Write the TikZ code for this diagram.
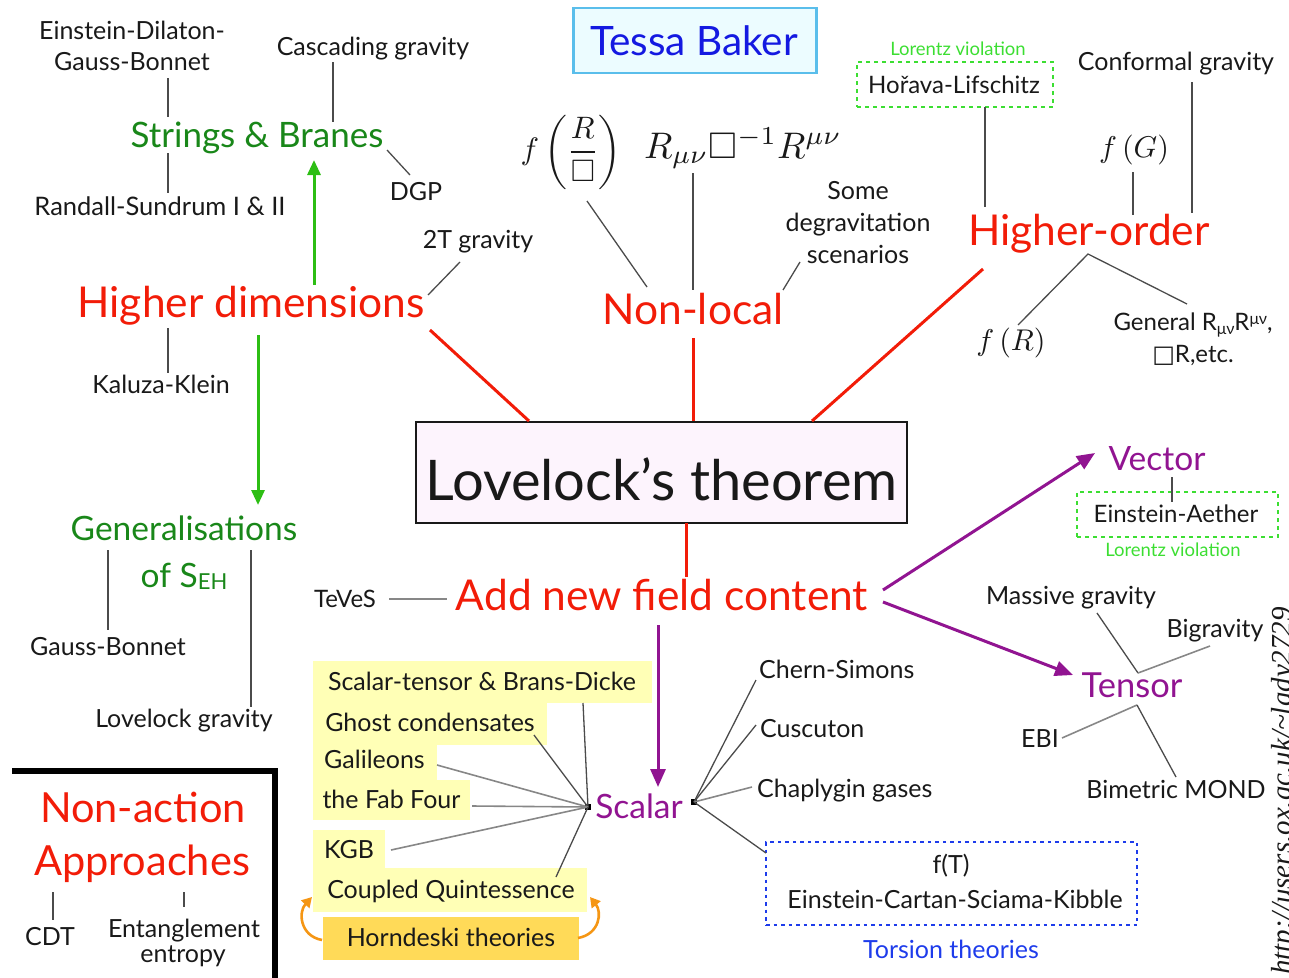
\documentclass[tikz,border=0pt]{standalone}
\usepackage{fontspec}
\usepackage{amssymb}
\setmainfont{Lato}
\newfontfamily\symfont{DejaVu Sans}
\newfontfamily\urlfont{Liberation Serif}
\usetikzlibrary{arrows.meta}

\definecolor{ink}{RGB}{25,25,25}
\definecolor{hired}{RGB}{242,28,8}
\definecolor{dkgreen}{RGB}{25,135,25}
\definecolor{brgreen}{RGB}{45,190,20}
\definecolor{ltgreen}{RGB}{60,222,50}
\definecolor{purp}{RGB}{145,20,145}
\definecolor{torblue}{RGB}{30,60,235}
\definecolor{namblue}{RGB}{20,25,225}
\definecolor{skyline}{RGB}{90,190,235}
\definecolor{skyfill}{RGB}{236,252,255}
\definecolor{lovefill}{RGB}{253,244,253}
\definecolor{hiyel}{RGB}{255,255,182}
\definecolor{gold}{RGB}{255,218,88}
\definecolor{orng}{RGB}{245,150,20}
\definecolor{conncol}{RGB}{75,75,75}
\definecolor{connlight}{RGB}{135,135,135}

\newcommand\fsz[1]{\fontsize{#1}{#1}\selectfont}

\begin{document}
\begin{tikzpicture}[x=1pt,y=-1pt,
  lb/.style={anchor=base, inner sep=0pt, text=ink},
  lbl/.style={lb, font=\fsz{25}},
  lblw/.style={lbl, anchor=base west},
  redhead/.style={lb, text=hired, font=\fsz{42.5}},
  greenhead/.style={lb, text=dkgreen, font=\fsz{35}},
  purphead/.style={lb, text=purp, font=\fsz{33.5}},
  lorentz/.style={lb, text=ltgreen, font=\fsz{18.5}},
  mathlbl/.style={inner sep=0pt, text=ink, font=\fsz{10}},
  conn/.style={draw=conncol, line width=1.3pt},
  connlt/.style={draw=connlight, line width=1.6pt},
  redline/.style={draw=hired, line width=3pt},
  greenarrow/.style={draw=brgreen, line width=3pt, -{Triangle[length=15pt,width=13pt]}},
  purparrow/.style={draw=purp, line width=3pt, -{Triangle[length=18pt,width=15pt]}},
  orngarrow/.style={draw=orng, line width=2.6pt, -{Triangle[length=10pt,width=11pt]}},
  dotbox/.style={draw=ltgreen, line width=2pt, dash pattern=on 4pt off 4pt, inner sep=0pt},
  torbox/.style={draw=torblue, line width=2pt, dash pattern=on 3.5pt off 4pt, inner sep=0pt},
  hub/.style={fill=black, inner sep=0pt, minimum size=6pt}
]
\useasboundingbox (0,0) rectangle (1289,977);
\clip (0,0) rectangle (1289,977);

% ---------- boxes ----------
\node[draw=skyline, fill=skyfill, line width=2.6pt, inner sep=0pt,
      minimum width=243pt, minimum height=65pt] (tessabox) at (695,40.5) {};
\node[lb, text=namblue, font=\fsz{40.5}] (tessa) at (694,55) {Tessa Baker};

\node[draw=ink, fill=lovefill, line width=2.6pt, inner sep=0pt,
      minimum width=491pt, minimum height=101pt] (love) at (661.5,472.5) {};
\node[lb, font=\fsz{56}] (lovetxt) at (661.5,500) {Lovelock’s theorem};

% ---------- strings, branes and higher dimensions ----------
\node[lbl] (edgb1) at (132,39) {Einstein-Dilaton-};
\node[lbl] (edgb2) at (132,70) {Gauss-Bonnet};
\node[lbl] (casc) at (373,55) {Cascading gravity};
\node[greenhead] (strings) at (257,147) {Strings \& Branes};
\node[lbl, font=\fsz{25.5}] (rs) at (160,215) {Randall-Sundrum I \& II};
\node[lbl] (dgp) at (416,200) {DGP};
\node[lbl] (twoT) at (478,248) {2T gravity};
\node[redhead] (hdim) at (251,317) {Higher dimensions};
\node[lbl] (kk) at (161,393) {Kaluza-Klein};

\coordinate (edgbA) at (168,78);   \coordinate (edgbB) at (168,117);
\coordinate (rsA) at (168,153);    \coordinate (rsB) at (168,193);
\coordinate (cascA) at (333,62);   \coordinate (cascB) at (333,122);
\coordinate (dgpA) at (387,150);   \coordinate (dgpB) at (410,175);
\coordinate (twoTA) at (428,295);  \coordinate (twoTB) at (460,262);
\coordinate (kkA) at (168,328);    \coordinate (kkB) at (168,373);
\draw[conn] (edgbA) -- (edgbB);
\draw[conn] (rsA) -- (rsB);
\draw[conn] (cascA) -- (cascB);
\draw[conn] (dgpA) -- (dgpB);
\draw[conn] (twoTA) -- (twoTB);
\draw[conn] (kkA) -- (kkB);

\coordinate (upA) at (314,285);  \coordinate (upB) at (314,160);
\draw[greenarrow] (upA) -- (upB);

% ---------- generalisations of the EH action ----------
\node[greenhead, font=\fsz{33.5}] (gen1) at (184,540) {Generalisations};
\node[greenhead, font=\fsz{33.5}] (gen2) at (184,587) {of S{\fsz{22}\raisebox{-2pt}{EH}}};
\node[lbl] (gb) at (108,655) {Gauss-Bonnet};
\node[lbl] (lg) at (184,727) {Lovelock gravity};
\coordinate (dnA) at (258,335);  \coordinate (dnB) at (258,505);
\draw[greenarrow] (dnA) -- (dnB);
\coordinate (gbA) at (108,550);  \coordinate (gbB) at (108,630);
\coordinate (lgA) at (251,550);  \coordinate (lgB) at (251,707);
\draw[conn] (gbA) -- (gbB);
\draw[conn] (lgA) -- (lgB);

% ---------- non-local ----------
\node[mathlbl, scale=3.1] (fRbox) at (571,152) {$\displaystyle f\,\biggl(\frac{R}{\Box}\biggr)$};
\node[mathlbl, scale=3.7, anchor=base] (RboxR) at (743,158) {$R_{\mu\nu}\Box^{-1}R^{\mu\nu}$};
\node[lbl] (some1) at (858,199) {Some};
\node[lbl] (some2) at (858,231) {degravitation};
\node[lbl] (some3) at (858,263) {scenarios};
\node[redhead] (nonlocal) at (693,324) {Non-local};
\coordinate (fRA) at (587,201);  \coordinate (fRB) at (647,287);
\coordinate (RRA) at (693,173);  \coordinate (RRB) at (693,290);
\coordinate (dgA) at (800,262);  \coordinate (dgB) at (783,290);
\draw[conn] (fRA) -- (fRB);
\draw[conn] (RRA) -- (RRB);
\draw[conn] (dgA) -- (dgB);

% ---------- higher order ----------
\node[lorentz] (lv1) at (958,55) {Lorentz violation};
\node[dotbox, minimum width=196pt, minimum height=45pt] (hlbox) at (955,84.5) {};
\node[lbl, font=\fsz{24}] (hl) at (954,93) {Hořava-Lifschitz};
\node[lbl] (conf) at (1176,70) {Conformal gravity};
\node[mathlbl, scale=3.0] (fG) at (1134,150) {$f\left(G\right)$};
\node[redhead] (hord) at (1089,245) {Higher-order};
\node[mathlbl, scale=3.0] (fR) at (1011,343) {$f\left(R\right)$};
\node[lbl, font=\fsz{24}] (general) at (1193,330)
  {General R{\fsz{16}\raisebox{-4pt}{μν}}R{\fsz{16}\raisebox{6pt}{μν}},};
\node[lbl, font=\fsz{24}] (boxR) at (1193,362) {{\symfont □}R,etc.};
\coordinate (hlA) at (985,107);    \coordinate (hlB) at (985,207);
\coordinate (confA) at (1192,82);  \coordinate (confB) at (1192,213);
\coordinate (fGA) at (1133,172);   \coordinate (fGB) at (1133,215);
\coordinate (hoV) at (1088,254);
\coordinate (fRend) at (1018,325); \coordinate (genend) at (1187,304);
\draw[conn] (hlA) -- (hlB);
\draw[conn] (confA) -- (confB);
\draw[conn] (fGA) -- (fGB);
\draw[conn] (fRend) -- (hoV) -- (genend);

% ---------- red trunk lines ----------
\coordinate (hdimR) at (430,330);  \coordinate (loveL) at (529,421);
\coordinate (nlB) at (693,338);    \coordinate (loveM) at (693,421);
\coordinate (hoB) at (983,269);    \coordinate (loveR) at (812,421);
\coordinate (loveB) at (686,523);  \coordinate (addT) at (686,577);
\draw[redline] (hdimR) -- (loveL);
\draw[redline] (nlB) -- (loveM);
\draw[redline] (hoB) -- (loveR);
\draw[redline] (loveB) -- (addT);

% ---------- new field content ----------
\node[redhead] (add) at (662,610) {Add new field content};
\node[lbl, font=\fsz{24}] (teves) at (345,607) {TeVeS};
\coordinate (tvA) at (389,599);  \coordinate (tvB) at (447,599);
\draw[connlt] (tvA) -- (tvB);

\node[purphead] (vector) at (1157,470) {Vector};
\node[dotbox, minimum width=201pt, minimum height=45pt] (eabox) at (1177.5,514.5) {};
\node[lbl, font=\fsz{24}] (ea) at (1176,522) {Einstein-Aether};
\node[lorentz] (lv2) at (1173,556) {Lorentz violation};
\coordinate (vecA) at (1172,477);  \coordinate (vecB) at (1172,502);
\draw[conn] (vecA) -- (vecB);

\node[purphead, font=\fsz{34.5}] (tensor) at (1132,697) {Tensor};
\node[lbl] (massive) at (1071,604) {Massive gravity};
\node[lbl] (bigr) at (1215,637) {Bigravity};
\node[lbl] (ebi) at (1040,747) {EBI};
\node[lbl] (bimond) at (1176,798) {Bimetric MOND};
\coordinate (tnU) at (1138,673);
\coordinate (massE) at (1097,613);  \coordinate (bigE) at (1210,646);
\coordinate (tnD) at (1137,705);
\coordinate (ebiE) at (1062,738);   \coordinate (bimE) at (1176,777);
\draw[conn] (massE) -- (tnU);
\draw[connlt] (tnU) -- (bigE);
\draw[connlt] (ebiE) -- (tnD);
\draw[conn] (tnD) -- (bimE);

\coordinate (addV) at (883,590);  \coordinate (vecTip) at (1095,453);
\coordinate (addT2) at (883,602); \coordinate (tenTip) at (1073,675);
\coordinate (addD) at (658,625);  \coordinate (scTip) at (658,787);
\draw[purparrow] (addV) -- (vecTip);
\draw[purparrow] (addT2) -- (tenTip);
\draw[purparrow] (addD) -- (scTip);

% ---------- scalar theories ----------
\fill[hiyel] (313,661) rectangle (652,703);
\fill[hiyel] (313,703) rectangle (547,745);
\fill[hiyel] (313,745) rectangle (437,780);
\fill[hiyel] (313,780) rectangle (470,820);
\fill[hiyel] (313,830) rectangle (385,868);
\fill[hiyel] (313,868) rectangle (587,912);
\fill[gold] (323,917) rectangle (579,960);

\node[lbl] (st) at (482,690) {Scalar-tensor \& Brans-Dicke};
\node[lbl] (ghost) at (430,731) {Ghost condensates};
\node[lbl] (gal) at (374.5,768) {Galileons};
\node[lbl] (fab) at (391.5,808) {the Fab Four};
\node[lbl] (kgb) at (349,858) {KGB};
\node[lbl] (cq) at (451,898) {Coupled Quintessence};
\node[lbl] (horn) at (451,946) {Horndeski theories};

\coordinate (hornL) at (322,940);  \coordinate (cqL) at (312,897);
\coordinate (hornR) at (578,938);  \coordinate (cqR) at (590,897);
\draw[orngarrow] (hornL) .. controls (300,936) and (298,912) .. (cqL);
\draw[orngarrow] (hornR) .. controls (600,934) and (602,912) .. (cqR);

\node[hub] (schub) at (588,807) {};
\node[purphead] (scalar) at (639,818) {Scalar};
\coordinate (stE) at (583,703);   \coordinate (ghE) at (534,735);
\coordinate (galE) at (437,765);  \coordinate (fabE) at (472,806);
\coordinate (kgbE) at (391,850);  \coordinate (cqE) at (556,877);
\draw[conn] (schub.center) -- (stE);
\draw[conn] (schub.center) -- (ghE);
\draw[connlt] (schub.center) -- (galE);
\draw[connlt] (schub.center) -- (fabE);
\draw[connlt] (schub.center) -- (kgbE);
\draw[conn] (schub.center) -- (cqE);

\node[hub] (rhub) at (694,802) {};
\node[lblw] (cs) at (759,678) {Chern-Simons};
\node[lblw] (cusc) at (760,737) {Cuscuton};
\node[lblw] (chap) at (757,797) {Chaplygin gases};
\node[torbox, minimum width=371pt, minimum height=83pt] (torsion) at (951.5,883.5) {};
\node[lbl] (fT) at (951,873) {f(T)};
\node[lbl] (ecsk) at (955,908) {Einstein-Cartan-Sciama-Kibble};
\node[lb, text=torblue, font=\fsz{25}] (tortxt) at (951,958) {Torsion theories};
\coordinate (csE) at (756,680);   \coordinate (cuE) at (756,725);
\coordinate (chE) at (752,787);   \coordinate (toE) at (766,853);
\draw[conn] (rhub.center) -- (csE);
\draw[conn] (rhub.center) -- (cuE);
\draw[connlt] (rhub.center) -- (chE);
\draw[conn] (rhub.center) -- (toE);

% ---------- non-action approaches ----------
\coordinate (frameA) at (12,770.5);
\coordinate (frameB) at (275,770.5);
\coordinate (frameC) at (275,985);
\draw[line width=6pt, draw=black, miter limit=4] (frameA) -- (frameB) -- (frameC);
\node[redhead, font=\fsz{41.5}] (nonact1) at (143,822) {Non-action};
\node[redhead, font=\fsz{41.5}] (nonact2) at (142,875) {Approaches};
\node[lbl] (cdt) at (50,945) {CDT};
\node[lbl] (ent1) at (184,937) {Entanglement};
\node[lbl] (ent2) at (183,962) {entropy};
\coordinate (cdtA) at (53,892);  \coordinate (cdtB) at (53,920);
\coordinate (entA) at (184,892); \coordinate (entB) at (184,907);
\draw[conn] (cdtA) -- (cdtB);
\draw[conn] (entA) -- (entB);

% ---------- web address along the right edge ----------
\node[rotate=90, anchor=base west, inner sep=0pt, text=ink,
      font=\urlfont\itshape\fsz{29}] (url) at (1291,975)
  {http://users.ox.ac.uk/\textasciitilde lady2729};
\end{tikzpicture}
\end{document}
